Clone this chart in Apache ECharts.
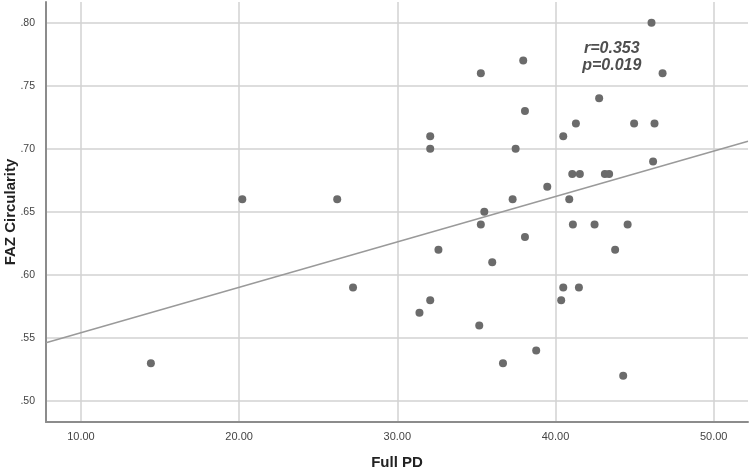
<!DOCTYPE html>
<html>
<head>
<meta charset="utf-8">
<script src="https://cdn.jsdelivr.net/npm/echarts@6/dist/echarts.min.js"></script>
<style>
html,body{margin:0;padding:0;background:#fff;}
#chart{width:752px;height:471px;}
</style>
</head>
<body>
<div id="chart"></div>
<script>
// Full PD (x) values
const fullPD = [14.42, 20.2, 26.2, 27.2, 31.4, 32.08, 32.08, 32.08, 32.6, 35.18,
  35.28, 35.28, 35.5, 36.0, 36.68, 37.29, 37.48, 37.96, 38.07, 38.07,
  38.78, 39.48, 40.36, 40.49, 40.49, 40.87, 41.06, 41.1, 41.29, 41.48,
  41.54, 42.47, 42.76, 43.12, 43.39, 43.77, 44.28, 44.56, 44.97, 46.07,
  46.17, 46.26, 46.77];
// FAZ Circularity (y) values
const fazCirc = [0.53, 0.66, 0.66, 0.59, 0.57, 0.58, 0.70, 0.71, 0.62, 0.56,
  0.64, 0.76, 0.65, 0.61, 0.53, 0.66, 0.70, 0.77, 0.73, 0.63,
  0.54, 0.67, 0.58, 0.59, 0.71, 0.66, 0.68, 0.64, 0.72, 0.59,
  0.68, 0.64, 0.74, 0.68, 0.68, 0.62, 0.52, 0.64, 0.72, 0.80,
  0.69, 0.72, 0.76];
// fit line endpoints
const fitX = [7.79, 52.17];
const fitY = [0.5462, 0.706];
const xRange = [7.79, 52.17];
const yRange = [0.4834, 0.8164];
const annotationText = ['r=0.353', 'p=0.019'];
const annotationPos = [43.56, 0.7728];

const points = fullPD.map((x, i) => [x, fazCirc[i]]);
const fitLine = fitX.map((x, i) => [x, fitY[i]]);

const chart = echarts.init(document.getElementById('chart'), null, {renderer: 'canvas'});
const FONT = '"Liberation Sans", Arial, sans-serif';
chart.setOption({
  animation: false,
  backgroundColor: '#ffffff',
  grid: {left: 46, right: 4, top: 2, bottom: 49, containLabel: false, outerBoundsMode: 'none'},
  xAxis: {
    type: 'value', min: xRange[0], max: xRange[1], splitNumber: 4,
    name: 'Full PD', nameLocation: 'middle', nameGap: 33,
    nameTextStyle: {fontFamily: FONT, fontSize: 15, fontWeight: 'bold', color: '#222'},
    axisLine: {show: true, onZero: false, lineStyle: {color: '#8c8c8c', width: 2}},
    axisTick: {show: false},
    axisLabel: {showMinLabel: false, showMaxLabel: false, margin: 9,
      fontFamily: FONT, fontSize: 11, color: '#444',
      formatter: v => v.toFixed(2)},
    splitLine: {show: true, showMinLine: false, showMaxLine: false,
      lineStyle: {color: '#d2d2d2', width: 1.5}}
  },
  yAxis: {
    type: 'value', min: yRange[0], max: yRange[1], splitNumber: 6,
    name: 'FAZ Circularity', nameLocation: 'middle', nameGap: 28, nameMoveOverlap: false,
    nameTextStyle: {fontFamily: FONT, fontSize: 15, fontWeight: 'bold', color: '#222'},
    axisLine: {show: true, onZero: false, lineStyle: {color: '#8c8c8c', width: 2}},
    axisTick: {show: false},
    axisLabel: {showMinLabel: false, showMaxLabel: false, margin: 11,
      fontFamily: FONT, fontSize: 10.5, color: '#444',
      formatter: v => v.toFixed(2).replace(/^0/, '')},
    splitLine: {show: true, showMinLine: false, showMaxLine: false,
      lineStyle: {color: '#d2d2d2', width: 1.5}}
  },
  series: [
    {
      type: 'line', data: fitLine, showSymbol: false, symbol: 'none',
      lineStyle: {color: '#9a9a9a', width: 1.5}, z: 2, silent: true
    },
    {
      type: 'scatter', data: points, symbol: 'circle', symbolSize: 8,
      itemStyle: {color: '#6b6b6b', opacity: 1}, z: 3
    },
    {
      type: 'scatter', data: [annotationPos], symbolSize: 0, z: 4,
      label: {show: true, position: 'inside', formatter: annotationText.join('\n'),
        fontFamily: FONT, fontSize: 16, fontStyle: 'italic', fontWeight: 'bold',
        color: '#222', lineHeight: 17, align: 'center', verticalAlign: 'middle'}
    }
  ]
});
</script>
</body>
</html>
